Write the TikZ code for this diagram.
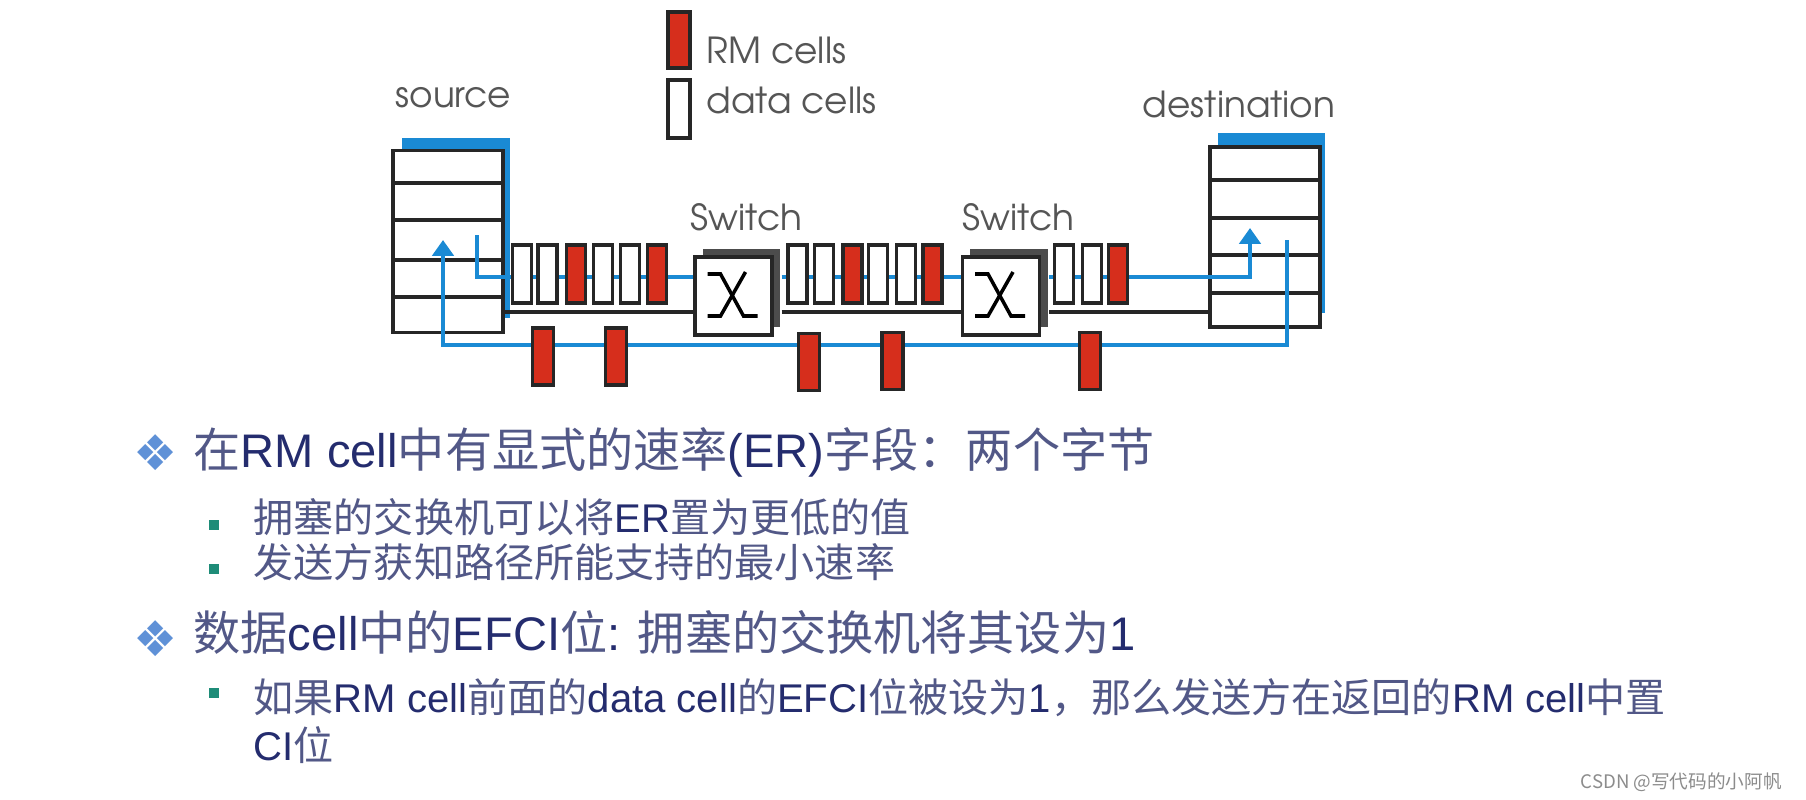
\documentclass[tikz,border=0pt]{standalone}
\usepackage{fontspec}
\setmainfont{Liberation Sans}
\newfontfamily\cjk{Noto Sans CJK SC}
\newfontfamily\symfont{DejaVu Sans}
\newfontfamily\agfont{texgyreadventor-regular.otf}
\usetikzlibrary{arrows.meta,shadows}

\definecolor{flowblue}{RGB}{26,138,212}
\definecolor{rmred}{RGB}{214,46,28}
\definecolor{labelgray}{RGB}{85,85,85}
\definecolor{latnavy}{RGB}{36,44,110}
\definecolor{cjknavy}{RGB}{82,88,135}
\definecolor{bulletblue}{RGB}{95,145,215}
\definecolor{squareteal}{RGB}{30,140,120}
\definecolor{markgray}{RGB}{140,140,140}

\newcommand{\zh}[1]{{\cjk\color{cjknavy}#1}}

\tikzset{
    host/.style={draw=black!85, line width=0.9pt, fill=white,
        minimum width=1.1cm, minimum height=1.82cm, inner sep=0pt},
    switchbox/.style={draw=black!85, line width=0.9pt, fill=white,
        minimum width=0.77cm, minimum height=0.78cm, inner sep=0pt,
        general shadow={fill=black!70, shadow xshift=0.08cm, shadow yshift=0.08cm}},
    cellbox/.style={draw=black!85, line width=0.9pt,
        minimum width=0.19cm, minimum height=0.58cm, inner sep=0pt},
    datacell/.style={cellbox, fill=white},
    rmcell/.style={cellbox, fill=rmred},
    backcell/.style={rmcell, minimum width=0.21cm, minimum height=0.57cm},
    link/.style={draw=black!85, line width=0.9pt},
    flow/.style={draw=flowblue, line width=1.2pt},
    lbl/.style={font=\agfont\fontsize{10.2}{12}\selectfont, text=labelgray,
        inner sep=0pt, anchor=base west},
    mainline/.style={font=\fontsize{13.4}{16}\selectfont, text=latnavy,
        inner sep=0pt, anchor=base west},
    subline/.style={font=\fontsize{11.4}{14}\selectfont, text=latnavy,
        inner sep=0pt, anchor=base west},
    diamondmark/.style={text=bulletblue, font=\symfont\fontsize{14}{16}\selectfont, inner sep=0pt},
    squaremark/.style={fill=squareteal, minimum size=0.1cm, inner sep=0pt},
}

\begin{document}
\begin{tikzpicture}[x=0.01cm, y=-0.01cm]

        \useasboundingbox (0,0) rectangle (1806,800);
        \fill[white] (0,0) rectangle (1806,800);

        % hosts
        \fill[flowblue] (402,138) rectangle (510,318);
        \node[host] (src) at (448,241.5) {};
        \fill[flowblue] (1218,133) rectangle (1325,313);
        \node[host, minimum height=1.80cm] (dst) at (1265,237) {};
        \foreach \y in {183,220,260,297}
            \draw[link] (src.west|-0,\y) -- (src.east|-0,\y);
        \foreach \y in {180,218,255,293}
            \draw[link] (dst.west|-0,\y) -- (dst.east|-0,\y);

        % switches
        \node[switchbox] (sw1) at (733.5,296) {};
        \node[switchbox] (sw2) at (1001,296) {};
        \foreach \s in {sw1,sw2} {
            \draw[line width=1pt] ([shift={(-26,-22)}]\s.center) -- ([shift={(-13,-22)}]\s.center)
                -- ([shift={(10,20)}]\s.center) -- ([shift={(24,20)}]\s.center);
            \draw[line width=1pt] ([shift={(12,-24)}]\s.center)
                -- ([shift={(-13,20)}]\s.center) -- ([shift={(-26,20)}]\s.center);
        }

        % links
        \coordinate (linky) at (0,312);
        \coordinate (fwdline) at (0,277);
        \coordinate (retline) at (0,345);
        \draw[link] (src.east|-linky) -- (sw1.west|-linky);
        \draw[link] ([xshift=0.08cm]sw1.east|-linky) -- (sw2.west|-linky);
        \draw[link] ([xshift=0.08cm]sw2.east|-linky) -- (dst.west|-linky);

        % forward and backward paths
        \coordinate (fwdstart) at (477,235);
        \coordinate (fwdend) at (1250,228);
        \coordinate (retstart) at (1287,240);
        \coordinate (retend) at (443,240);
        \draw[flow] (fwdstart) |- (sw1.west|-fwdline);
        \draw[flow] ([xshift=0.08cm]sw1.east|-fwdline) -- (sw2.west|-fwdline);
        \draw[flow,-{Triangle[width=6pt,length=4.5pt]}] ([xshift=0.08cm]sw2.east|-fwdline) -| (fwdend);
        \draw[flow,-{Triangle[width=6pt,length=4.5pt]}] (retstart) |- (retline-|retend) -- (retend);

        % cells on the way
        \foreach \x/\kind [count=\i] in {522/datacell, 547.5/datacell, 576/rmcell,
            603/datacell, 630/datacell, 657/rmcell, 797.5/datacell, 824/datacell,
            852.5/rmcell, 878/datacell, 906/datacell, 932.5/rmcell,
            1064/datacell, 1092/datacell, 1118/rmcell}
            \node[\kind] (cell\i) at (\x,274) {};
        \foreach \x/\y [count=\i] in {543/356.5, 616/356.5, 809/362, 892.5/361, 1090/361}
            \node[backcell] (back\i) at (\x,\y) {};

        % legend and labels
        \node[rmcell, minimum width=0.22cm, minimum height=0.56cm] (keyrm) at (679,40) {};
        \node[datacell, minimum width=0.22cm, minimum height=0.58cm] (keydata) at (679,109) {};
        \node[lbl] (keyrmtext) at (706,63) {RM cells};
        \node[lbl] (keydatatext) at (706,113) {data cells};
        \node[lbl] (srclabel) at (395,107) {source};
        \node[lbl] (sw1label) at (690,230) {Switch};
        \node[lbl] (sw2label) at (962,230) {Switch};
        \node[lbl] (dstlabel) at (1142,117) {destination};

        % bullet text
        \node[diamondmark] (mark1) at (156,453) {❖};
        \node[diamondmark] (mark4) at (156,639) {❖};
        \node[squaremark] (sq2) at (214,525) {};
        \node[squaremark] (sq3) at (214,569) {};
        \node[squaremark] (sq5) at (214,693) {};

        \node[mainline] (line1) at (193,467) {\zh{在}RM cell\zh{中有显式的速率}(ER)\zh{字段：两个字节}};
        \node[subline] (line2) at (253,532) {\zh{拥塞的交换机可以将}ER\zh{置为更低的值}};
        \node[subline] (line3) at (253,577) {\zh{发送方获知路径所能支持的最小速率}};
        \node[mainline] (line4) at (193,650) {\zh{数据}cell\zh{中的}EFCI\zh{位}: \zh{拥塞的交换机将其设为}1};
        \node[subline] (line5) at (253,712) {\zh{如果}RM cell\zh{前面的}data cell\zh{的}EFCI\zh{位被设为}1\zh{，那么发送方在返回的}RM cell\zh{中置}};
        \node[subline] (line6) at (253,760) {CI\zh{位}};

        \node[font=\cjk\fontsize{5.3}{6}\selectfont, text=markgray, anchor=base west, inner sep=0pt] (watermark) at (1580,788) {CSDN @写代码的小阿帆};
    \end{tikzpicture}
\end{document}
